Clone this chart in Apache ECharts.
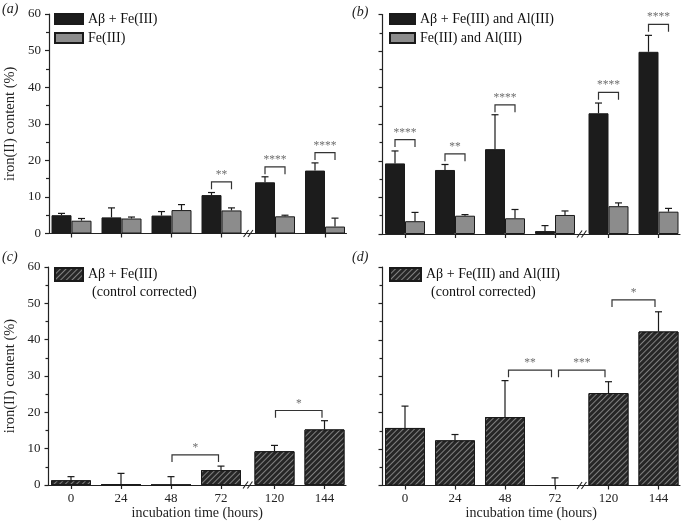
<!DOCTYPE html>
<html>
<head>
<meta charset="utf-8">
<script src="https://cdn.jsdelivr.net/npm/echarts@6/dist/echarts.min.js"></script>
<style>html,body{margin:0;padding:0;background:#fff}#c{width:681px;height:526px}</style>
</head>
<body>
<div id="c"></div>
<script>
// ---- data ----
const hours = ['0', '24', '48', '72', '120', '144'];

const aBlack    = [5.0, 4.4, 4.9, 10.5, 14.0, 17.2];
const aBlackErr = [0.5, 2.6, 1.1, 0.7, 1.5, 2.1];
const aGrey     = [3.5, 4.1, 6.4, 6.3, 4.7, 1.9];
const aGreyErr  = [0.6, 0.4, 1.5, 0.7, 0.3, 2.3];

const bBlack    = [19.3, 17.5, 23.2, 0.8, 33.0, 49.8];
const bBlackErr = [3.4, 1.5, 9.4, 1.5, 2.8, 4.5];
const bGrey     = [3.5, 5.0, 4.3, 5.2, 7.6, 6.1];
const bGreyErr  = [2.4, 0.3, 2.4, 1.1, 0.9, 0.9];

const cVals = [1.3, 0.2, 0, 4.1, 9.3, 15.3];
const cErr  = [1.0, 3.0, 2.3, 1.1, 1.6, 2.4];

const dVals = [15.8, 12.4, 18.8, 0, 25.4, 42.3];
const dErr  = [6.0, 1.6, 10.0, 2.1, 3.1, 5.4];

// significance: within-group (a, b) and between-group (c, d)
const aSigGroup = [3, 4, 5];
const aSigTop   = [14.1, 18.2, 22.1];
const aSigText  = ['**', '****', '****'];
const bSigGroup = [0, 1, 2, 4, 5];
const bSigTop   = [25.8, 21.9, 35.3, 38.7, 57.3];
const bSigText  = ['****', '**', '****', '****', '****'];
const cSigFrom = [2, 4], cSigTo = [3, 5], cSigTop = [8.3, 20.5], cSigText = ['*', '*'];
const dSigFrom = [2, 3, 4], dSigTo = [3, 4, 5], dSigTop = [31.7, 31.7, 51.0], dSigText = ['**', '***', '*'];

const yTicks = [0, 10, 20, 30, 40, 50, 60];

// ---- layout / style ----
const FONT = 'Liberation Serif';
const BREAK_SHIFT = 0.07;
const xPos = hours.map((h, i) => i + (i >= 4 ? BREAK_SHIFT : 0));
const BREAK_AT = 3.535;
const HALF = 0.2;   // half bar width in axis units for paired bars
const LEG = 2;

const chart = echarts.init(document.getElementById('c'), null, {renderer: 'canvas'});

const grids = [
  {left: 49, top: 14, width: 297.5, height: 219.5},
  {left: 382.5, top: 14.5, width: 297.5, height: 219.5},
  {left: 48.5, top: 267, width: 297.5, height: 218},
  {left: 382.5, top: 267, width: 297.5, height: 218.5}
];

function xAxis(i, labels) {
  return {
    type: 'value', gridIndex: i, min: -0.45, max: 5.5,
    splitLine: {show: false},
    axisLine: {onZero: false, lineStyle: {color: '#222', width: 1.2}},
    axisTick: {show: true, customValues: xPos, length: 4, lineStyle: {color: '#222', width: 1.2}},
    axisLabel: {show: labels, customValues: xPos, margin: 7, color: '#222', fontFamily: FONT, fontSize: 13,
      formatter: v => { const k = xPos.findIndex(p => Math.abs(p - v) < 1e-6); return k >= 0 ? hours[k] : ''; }},
    name: labels ? 'incubation time (hours)' : '', nameLocation: 'middle', nameGap: 19,
    nameTextStyle: {fontFamily: FONT, fontSize: 14, color: '#222'}
  };
}
function yAxis(i, labels) {
  return {
    type: 'value', gridIndex: i, min: 0, max: 60, interval: 10,
    splitLine: {show: false},
    axisLine: {show: true, onZero: false, lineStyle: {color: '#222', width: 1.2}},
    axisTick: {show: true, length: 4, lineStyle: {color: '#222', width: 1.2}},
    minorTick: {show: true, splitNumber: 2, length: 3, lineStyle: {color: '#222', width: 1.2}},
    axisLabel: {show: labels, margin: 8, color: '#222', fontFamily: FONT, fontSize: 13,
      customValues: yTicks},
    name: labels ? 'iron(II) content (%)' : '', nameLocation: 'middle', nameGap: 31,
    nameTextStyle: {fontFamily: FONT, fontSize: 14.5, color: '#222'}
  };
}

const BLACK = '#1c1c1c', GREY = '#8c8c8c', EDGE = '#1a1a1a';
const hatch = {
  color: '#262626', borderColor: EDGE, borderWidth: 1,
  decal: {symbol: 'rect', symbolSize: 1, dashArrayX: [[1, 0]], dashArrayY: [1, 2.2],
    rotation: -Math.PI / 4, color: '#808080'}
};

function barSeries(name, gi, xs, vals, width, style) {
  return {
    type: 'bar', name: name, xAxisIndex: gi, yAxisIndex: gi,
    barWidth: width, barGap: '-100%',
    data: xs.map((x, k) => [x, vals[k]]),
    itemStyle: style, z: 2, silent: true
  };
}

function errSeries(gi, xs, vals, errs) {
  return {
    type: 'custom', xAxisIndex: gi, yAxisIndex: gi, z: 5, silent: true,
    data: xs.map((x, k) => [x, vals[k], errs[k]]),
    renderItem: (params, api) => {
      const x = api.value(0), v = api.value(1), e = api.value(2);
      const p0 = api.coord([x, v]), p1 = api.coord([x, v + e]);
      const st = {stroke: '#1a1a1a', lineWidth: 1.2};
      return {type: 'group', children: [
        {type: 'line', shape: {x1: p0[0], y1: p0[1], x2: p1[0], y2: p1[1]}, style: st},
        {type: 'line', shape: {x1: p1[0] - 3.5, y1: p1[1], x2: p1[0] + 3.5, y2: p1[1]}, style: st}
      ]};
    }
  };
}

function sigSeries(gi, x1s, x2s, tops, texts) {
  return {
    type: 'custom', xAxisIndex: gi, yAxisIndex: gi, z: 6, silent: true,
    data: x1s.map((x, k) => [x, x2s[k], tops[k]]),
    renderItem: (params, api) => {
      const x1 = api.value(0), x2 = api.value(1), t = api.value(2);
      const pL = api.coord([x1, t]), pR = api.coord([x2, t]);
      const yl = api.coord([x1, t - LEG])[1];
      return {type: 'group', children: [
        {type: 'polyline', shape: {points: [[pL[0], yl], pL, pR, [pR[0], yl]]},
          style: {stroke: '#333', lineWidth: 1.2, fill: null}},
        {type: 'text', x: (pL[0] + pR[0]) / 2, y: pL[1] - 1,
          style: {text: texts[params.dataIndex], fill: '#6e6e6e', font: '11.5px ' + FONT,
            align: 'center', verticalAlign: 'bottom'}}
      ]};
    }
  };
}

function breakSeries(gi) {
  return {
    type: 'custom', xAxisIndex: gi, yAxisIndex: gi, z: 7, silent: true, clip: false,
    data: [[BREAK_AT, 0]],
    renderItem: (params, api) => {
      const p = api.coord([api.value(0), api.value(1)]);
      const st = {stroke: '#222', lineWidth: 1.1};
      return {type: 'group', children: [-2.2, 2.2].map(k => ({
        type: 'line', shape: {x1: p[0] + k - 2.5, y1: p[1] + 3.5, x2: p[0] + k + 2.5, y2: p[1] - 3.5}, style: st
      }))};
    }
  };
}

const xsBlack = xPos.map(x => x - HALF), xsGrey = xPos.map(x => x + HALF);

const series = [
  barSeries('a:Aβ + Fe(III)', 0, xsBlack, aBlack, 20, {color: BLACK, borderColor: EDGE, borderWidth: 1}),
  barSeries('a:Fe(III)', 0, xsGrey, aGrey, 20, {color: GREY, borderColor: EDGE, borderWidth: 1}),
  errSeries(0, xsBlack, aBlack, aBlackErr),
  errSeries(0, xsGrey, aGrey, aGreyErr),
  sigSeries(0, aSigGroup.map(g => xPos[g] - HALF), aSigGroup.map(g => xPos[g] + HALF), aSigTop, aSigText),
  breakSeries(0),

  barSeries('b:Aβ + Fe(III) and Al(III)', 1, xsBlack, bBlack, 20, {color: BLACK, borderColor: EDGE, borderWidth: 1}),
  barSeries('b:Fe(III) and Al(III)', 1, xsGrey, bGrey, 20, {color: GREY, borderColor: EDGE, borderWidth: 1}),
  errSeries(1, xsBlack, bBlack, bBlackErr),
  errSeries(1, xsGrey, bGrey, bGreyErr),
  sigSeries(1, bSigGroup.map(g => xPos[g] - HALF), bSigGroup.map(g => xPos[g] + HALF), bSigTop, bSigText),
  breakSeries(1),

  barSeries('c:Aβ + Fe(III)', 2, xPos, cVals, 40, hatch),
  errSeries(2, xPos, cVals, cErr),
  sigSeries(2, cSigFrom.map(g => xPos[g] + 0.02), cSigTo.map(g => xPos[g] - 0.05), cSigTop, cSigText),
  breakSeries(2),

  barSeries('d:Aβ + Fe(III) and Al(III)', 3, xPos, dVals, 40, hatch),
  errSeries(3, xPos, dVals, dErr),
  sigSeries(3, dSigFrom.map(g => xPos[g] + 0.07), dSigTo.map(g => xPos[g] - 0.07), dSigTop, dSigText),
  breakSeries(3)
];

function legend(names, left, top, iw, ih) {
  return {
    data: names, left: left, top: top, orient: 'vertical', icon: 'rect', padding: 0,
    itemWidth: iw, itemHeight: ih, itemGap: 5, selectedMode: false,
    formatter: n => n.slice(2),
    textStyle: {fontFamily: FONT, fontSize: 14, color: '#111'}
  };
}

const txt = (s, x, y, italic) => ({type: 'text', left: x, top: y,
  style: {text: s, font: (italic ? 'italic ' : '') + '14px ' + FONT, fill: '#222'}});

chart.setOption({
  animation: false,
  backgroundColor: '#fff',
  grid: grids,
  xAxis: [xAxis(0, false), xAxis(1, false), xAxis(2, true), xAxis(3, true)],
  yAxis: [yAxis(0, true), yAxis(1, false), yAxis(2, true), yAxis(3, false)],
  legend: [
    legend(['a:Aβ + Fe(III)', 'a:Fe(III)'], 54, 12, 28, 10),
    legend(['b:Aβ + Fe(III) and Al(III)', 'b:Fe(III) and Al(III)'], 389, 12, 25, 10),
    legend(['c:Aβ + Fe(III)'], 54, 267, 28, 13),
    legend(['d:Aβ + Fe(III) and Al(III)'], 389, 267, 31, 13)
  ],
  graphic: [
    txt('(a)', 2, 2, true),
    txt('(b)', 352, 5, true),
    txt('(c)', 2, 250, true),
    txt('(d)', 352, 250, true),
    {type: 'text', left: 92, top: 285, style: {text: '(control corrected)', font: '14px ' + FONT, fill: '#111'}},
    {type: 'text', left: 431, top: 285, style: {text: '(control corrected)', font: '14px ' + FONT, fill: '#111'}}
  ],
  series: series
});
</script>
</body>
</html>
